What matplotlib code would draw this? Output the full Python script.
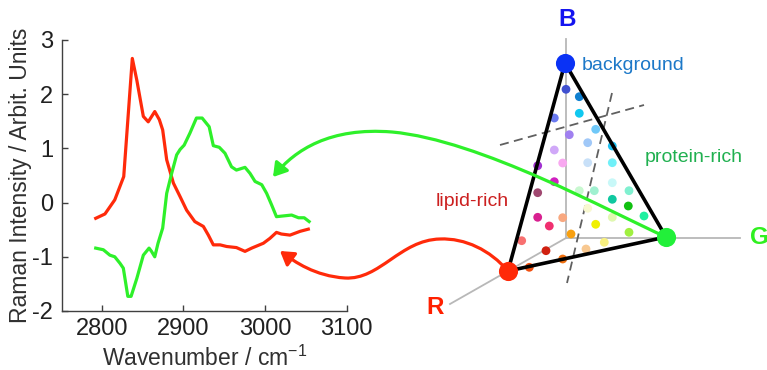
import numpy as np
import matplotlib.pyplot as plt
from matplotlib.path import Path
from matplotlib.patches import FancyArrowPatch

plt.rcParams['font.family'] = ['Liberation Sans', 'DejaVu Sans']
plt.rcParams['axes.unicode_minus'] = False

#=================
# 1. Spectrum data
#=================

wn_lipid = [2792.7, 2804, 2816, 2827, 2837.5, 2843, 2851, 2857, 2865, 2870.6, 2874.7,
            2879.6, 2887.8, 2896, 2904, 2914, 2924.5, 2930.6, 2936.7, 2945, 2953, 2965,
            2975.5, 2983.7, 2998, 3006, 3014, 3020, 3030.6, 3043, 3053]
int_lipid = [-0.29, -0.21, 0.05, 0.48, 2.66, 2.26, 1.59, 1.49, 1.68, 1.53, 1.34,
             0.79, 0.36, 0.11, -0.14, -0.35, -0.44, -0.60, -0.78, -0.78, -0.81, -0.83,
             -0.90, -0.84, -0.75, -0.66, -0.55, -0.58, -0.60, -0.53, -0.49]

wn_protein = [2792.7, 2802, 2806, 2810, 2816, 2822.4, 2826.5, 2832, 2836, 2843, 2851,
              2858, 2861, 2865, 2869, 2874.7, 2879.6, 2885.7, 2891.8, 2896, 2901, 2908,
              2916, 2923, 2931.6, 2936.7, 2944, 2951, 2959, 2965, 2975.5, 2981.6, 2987.8,
              2996, 3002, 3008, 3014, 3020, 3032.6, 3041, 3048, 3054]
int_protein = [-0.84, -0.87, -0.92, -0.97, -1.00, -1.12, -1.21, -1.73, -1.73, -1.40, -0.97,
               -0.84, -0.90, -1.00, -0.75, -0.47, 0.17, 0.54, 0.88, 0.98, 1.06, 1.28,
               1.56, 1.56, 1.40, 1.05, 1.02, 0.91, 0.66, 0.60, 0.65, 0.54, 0.39,
               0.33, 0.17, -0.04, -0.26, -0.25, -0.23, -0.28, -0.28, -0.35]

x_ticks = [2800, 2900, 3000, 3100]
y_ticks = [-2, -1, 0, 1, 2, 3]

#=====================================
# 2. Colour-space diagram (pixel space)
#=====================================

origin = (566, 238)
axis_ends = [(566, 39), (740, 238), (450, 304)]
vert_B = (565, 63)
vert_G = (666, 237)
vert_R = (508, 271)
dash_1 = [(500, 145), (644, 105)]
dash_2 = [(612, 93), (567, 283)]

dot_x = [566, 579.3, 554.3, 579.3, 595.7, 569.3, 554.3, 587.7, 612.3, 537.7, 562.7, 587.7,
         612.3, 554.3, 612.3, 537.7, 579.3, 594.3, 629, 612.3, 628.3, 587.7, 537.7, 562.7,
         549.3, 595.7, 612.3, 644, 571, 629, 521.7, 604.3, 546, 586, 562.7, 529.3]
dot_y = [89.3, 96.7, 118, 113.3, 129.3, 134.7, 150, 142.7, 146, 165.7, 163, 162.7,
         162.7, 181.7, 182.7, 192.7, 190.7, 190.7, 190.7, 199.3, 206, 208.3, 217.3, 217.7,
         226, 224.3, 217.3, 216, 234, 232.3, 240.7, 242.3, 250.7, 249, 259, 267.3]
dot_c = ['#4050d0', '#1080d0', '#6a7af0', '#10c8f0', '#70c8f8', '#a080f0', '#d0a8f8', '#a0c8f8',
         '#20c0f0', '#a030d0', '#f8a8f0', '#c8e0f8', '#70f0f8', '#d020c0', '#c8f8f8', '#a04870',
         '#c8f8d0', '#a0f0d0', '#80f0d0', '#10c8a0', '#10c010', '#f8f8d0', '#d82090', '#f8a880',
         '#f03070', '#f0f000', '#e0f8b0', '#20f0a0', '#f8a010', '#a0f040', '#f87070', '#f8f080',
         '#d02010', '#f8c890', '#f07010', '#f05010']

green_path = [(666, 237), (610, 212), (480, 140), (392, 132),
              (330, 127), (295, 150), (273, 177)]
red_path = [(508, 271), (490, 250), (465, 238), (440, 239),
            (400, 240), (380, 280), (345, 278),
            (315, 276), (295, 262), (280, 251)]

#============
# 3. Plotting
#============

fig = plt.figure(figsize=(7.67, 3.70), dpi=100)

ax = fig.add_axes([0.0804, 0.1595, 0.3716, 0.7324])
ax.plot(wn_lipid, int_lipid, color='#ff2a0a', linewidth=2.3)
ax.plot(wn_protein, int_protein, color='#2ef02a', linewidth=2.3)
ax.set_xlim(2751, 3100)
ax.set_ylim(-2, 3)
ax.set_xticks(x_ticks)
ax.set_yticks(y_ticks)
ax.spines['top'].set_visible(False)
ax.spines['right'].set_visible(False)
for s in ['left', 'bottom']:
    ax.spines[s].set_color('#404040')
    ax.spines[s].set_linewidth(1.0)
ax.tick_params(direction='in', length=4, width=1.0, color='#404040',
               labelsize=17, labelcolor='#202020')
ax.tick_params(axis='y', pad=6)
ax.tick_params(axis='x', pad=5)
ax.set_xlabel('Wavenumber / cm$\\mathregular{^{-1}}$', fontsize=16.5, color='#303030', labelpad=4)
ax.set_ylabel('Raman Intensity / Arbit. Units', fontsize=16.5, color='#303030')
ax.yaxis.set_label_coords(-0.105, 0.5)

# overlay axes in pixel coordinates for the diagram and arrows
ov = fig.add_axes([0, 0, 1, 1], zorder=5)
ov.set_xlim(0, 767)
ov.set_ylim(370, 0)
ov.axis('off')
ov.patch.set_alpha(0)

for end in axis_ends:
    ov.plot([origin[0], end[0]], [origin[1], end[1]], color='#b8b8b8', linewidth=1.3, zorder=1)

for d in [dash_1, dash_2]:
    ov.plot([d[0][0], d[1][0]], [d[0][1], d[1][1]], color='#606060', linewidth=1.3,
            linestyle=(0, (5, 3)), zorder=2)

ov.scatter(dot_x, dot_y, s=40, c=dot_c, linewidths=0, zorder=3)

tri_x = [vert_B[0], vert_R[0], vert_G[0], vert_B[0]]
tri_y = [vert_B[1], vert_R[1], vert_G[1], vert_B[1]]
ov.plot(tri_x, tri_y, color='black', linewidth=2.6, zorder=4, solid_joinstyle='round')

for p, col in [(green_path, '#2ef02a'), (red_path, '#ff2a0a')]:
    codes = [Path.MOVETO] + [Path.CURVE4] * (len(p) - 1)
    arrow = FancyArrowPatch(path=Path(p, codes), arrowstyle='-|>,head_length=8,head_width=5',
                            color=col, linewidth=2.3, zorder=5)
    ov.add_patch(arrow)

ov.scatter([vert_B[0]], [vert_B[1]], s=190, color='#0a32f5', linewidths=0, zorder=6)
ov.scatter([vert_G[0]], [vert_G[1]], s=190, color='#22f03a', linewidths=0, zorder=6)
ov.scatter([vert_R[0]], [vert_R[1]], s=190, color='#ff2a08', linewidths=0, zorder=6)

ov.text(567, 20, 'B', fontsize=17.5, fontweight='bold', color='#1414f0', ha='center', va='center')
ov.text(759, 238, 'G', fontsize=17.5, fontweight='bold', color='#30f020', ha='center', va='center')
ov.text(435, 307, 'R', fontsize=17.5, fontweight='bold', color='#ff2000', ha='center', va='center')
ov.text(582, 66, 'background', fontsize=14, color='#1c78c8', ha='left', va='center')
ov.text(645, 158, 'protein-rich', fontsize=14, color='#20b050', ha='left', va='center')
ov.text(436, 201, 'lipid-rich', fontsize=14, color='#cc2020', ha='left', va='center')

fig.savefig('out.png', dpi=100)
